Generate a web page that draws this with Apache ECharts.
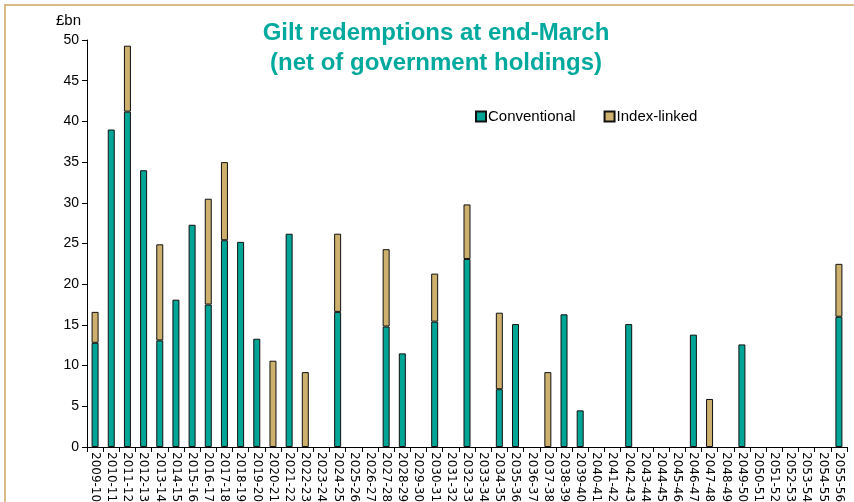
<!DOCTYPE html>
<html>
<head>
<meta charset="utf-8">
<script src="https://cdn.jsdelivr.net/npm/echarts@6/dist/echarts.min.js"></script>
<style>
  html, body { margin: 0; padding: 0; background: #fff; }
  #chart { width: 854px; height: 502px; }
</style>
</head>
<body>
<div id="chart"></div>
<script>
// financial years, end-March
var years = [
  '2009-10', '2010-11', '2011-12', '2012-13', '2013-14', '2014-15', '2015-16', '2016-17',
  '2017-18', '2018-19', '2019-20', '2020-21', '2021-22', '2022-23', '2023-24', '2024-25',
  '2025-26', '2026-27', '2027-28', '2028-29', '2029-30', '2030-31', '2031-32', '2032-33',
  '2033-34', '2034-35', '2035-36', '2036-37', '2037-38', '2038-39', '2039-40', '2040-41',
  '2041-42', '2042-43', '2043-44', '2044-45', '2045-46', '2046-47', '2047-48', '2048-49',
  '2049-50', '2050-51', '2051-52', '2052-53', '2053-54', '2054-55', '2055-56'
];
// £bn
var conventional = [
  12.8, 39.0, 41.2, 34.0, 13.1, 18.1, 27.3, 17.5,
  25.4, 25.2, 13.3, 0, 26.2, 0, 0, 16.6,
  0, 0, 14.8, 11.5, 0, 15.4, 0, 23.1,
  0, 7.1, 15.1, 0, 0, 16.3, 4.5, 0,
  0, 15.1, 0, 0, 0, 13.8, 0, 0,
  12.6, 0, 0, 0, 0, 0, 16.0
];
var indexLinked = [
  3.8, 0, 8.1, 0, 11.8, 0, 0, 13.0,
  9.6, 0, 0, 10.6, 0, 9.2, 0, 9.6,
  0, 0, 9.5, 0, 0, 5.9, 0, 6.7,
  0, 9.4, 0, 0, 9.2, 0, 0, 0,
  0, 0, 0, 0, 0, 0, 5.9, 0,
  0, 0, 0, 0, 0, 0, 6.5
];
var yTicks = [0, 5, 10, 15, 20, 25, 30, 35, 40, 45, 50];

var TEAL = '#00a596';
var TAN = '#cdb06d';
var titleColor = '#00a99d';

var chart = echarts.init(document.getElementById('chart'));

var option = {
  animation: false,
  textStyle: { fontFamily: 'Liberation Sans, Arial, sans-serif' },
  title: {
    text: 'Gilt redemptions at end-March\n(net of government holdings)',
    left: 431,
    top: 13,
    textAlign: 'center',
    textStyle: {
      color: titleColor,
      fontSize: 24,
      fontWeight: 'bold',
      lineHeight: 30,
      fontFamily: 'Liberation Sans, Arial, sans-serif'
    }
  },
  legend: {
    left: 470,
    top: 104,
    itemWidth: 10,
    itemHeight: 10,
    itemGap: 28,
    icon: 'rect',
    textStyle: { color: '#000', fontSize: 15, padding: [0, 0, 0, -3] },
    data: ['Conventional', 'Index-linked']
  },
  grid: { left: 87, right: 7, top: 40, bottom: 55, containLabel: false, outerBoundsMode: 'none' },
  xAxis: {
    type: 'category',
    data: years,
    axisLine: { lineStyle: { color: '#000', width: 1 } },
    axisTick: { show: true, alignWithLabel: false, length: 5, lineStyle: { color: '#000' } },
    axisLabel: {
      rotate: -90,
      interval: 0,
      color: '#000',
      fontSize: 12,
      fontFamily: 'DejaVu Sans, sans-serif',
      margin: 5
    }
  },
  yAxis: {
    type: 'value',
    min: 0,
    max: 50,
    interval: 5,
    name: '£bn',
    nameLocation: 'end',
    nameGap: 12,
    nameTextStyle: { color: '#000', fontSize: 15, align: 'right', padding: [0, 6, 0, 0] },
    axisLine: { show: true, lineStyle: { color: '#000', width: 1 } },
    axisTick: { show: true, length: 5, lineStyle: { color: '#000' } },
    axisLabel: {
      color: '#000',
      fontSize: 14,
      margin: 8,
      formatter: function(v) { return yTicks.indexOf(v) >= 0 ? String(v) : ''; }
    },
    splitLine: { show: false }
  },
  series: [{
    name: 'Conventional',
    type: 'bar',
    stack: 'gilts',
    barWidth: 7,
    data: conventional.map(function(v) { return v > 0 ? v : '-'; }),
    itemStyle: { color: TEAL, borderColor: '#111', borderWidth: 1 }
  }, {
    name: 'Index-linked',
    type: 'bar',
    stack: 'gilts',
    barWidth: 7,
    data: indexLinked.map(function(v) { return v > 0 ? v : '-'; }),
    itemStyle: { color: TAN, borderColor: '#111', borderWidth: 1 }
  }],
  graphic: [{
    type: 'polyline',
    shape: { points: [[5, 502], [5, 5], [854, 5]] },
    style: { stroke: '#d9bc85', lineWidth: 2, fill: null },
    silent: true
  }]
};

chart.setOption(option);
</script>
</body>
</html>
